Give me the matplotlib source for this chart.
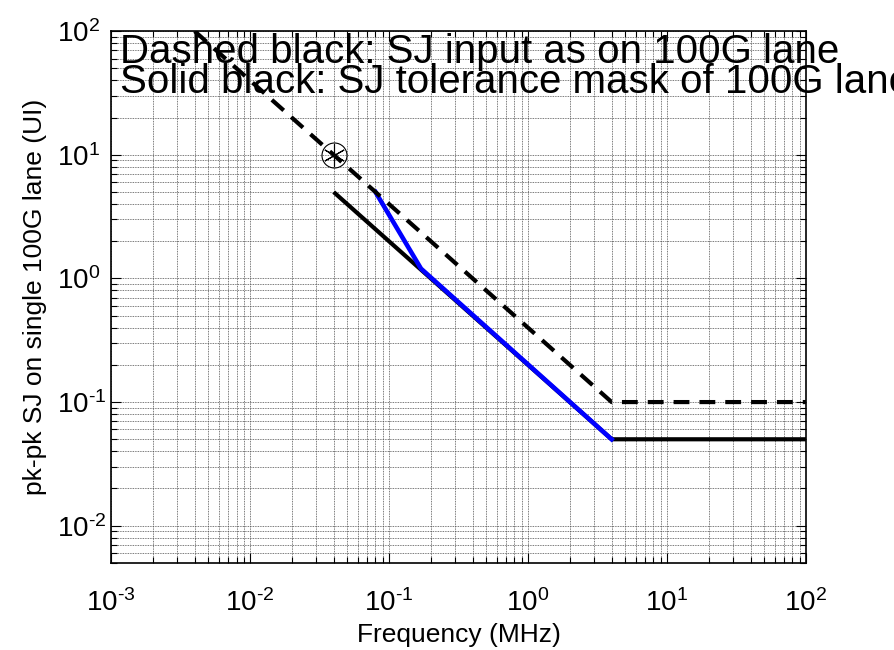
import numpy as np
import matplotlib
matplotlib.use('Agg')
import matplotlib.pyplot as plt
from matplotlib.ticker import LogLocator, NullFormatter, FuncFormatter

plt.rcParams['font.family'] = ['Liberation Sans', 'DejaVu Sans']
plt.rcParams['mathtext.fontset'] = 'custom'
plt.rcParams['mathtext.rm'] = 'Liberation Sans'
plt.rcParams['mathtext.it'] = 'Liberation Sans'
plt.rcParams['axes.unicode_minus'] = False

# SJ input on the 100G lane (dashed)
input_f = [0.004, 4, 100]
input_sj = [100, 0.1, 0.1]
# SJ tolerance mask (solid black)
mask_f = [0.04, 4, 100]
mask_sj = [5, 0.05, 0.05]
# blue trace
blue_f = [0.08, 0.17, 4]
blue_sj = [5, 1.2, 0.05]
# marked point
pt_f = [0.04]
pt_sj = [10]

fig = plt.figure(figsize=(8.95, 6.5), dpi=100)
ax = fig.add_axes([0.124, 0.134, 0.7765, 0.818])

ax.loglog(mask_f, mask_sj, color='k', lw=3.0, solid_capstyle='butt')
ax.loglog(blue_f, blue_sj, color='b', lw=3.3, solid_joinstyle='round')
ax.loglog(input_f, input_sj, color='k', lw=3.0, dashes=(3.8, 2.4))
ax.loglog(pt_f, pt_sj, 'ko', mfc='none', ms=18, mew=0.8)
ax.loglog(pt_f, pt_sj, color='k', marker=(6, 2, 0), ls='none', ms=16, mew=0.8)

ax.set_xlim(1e-3, 1e2)
ax.set_ylim(5e-3, 1e2)

def dec_fmt(v, pos):
    e = int(round(np.log10(v)))
    return r'$\mathregular{10^{\text{%d}}}$' % e

ax.xaxis.set_major_locator(LogLocator(base=10, numticks=20))
ax.yaxis.set_major_locator(LogLocator(base=10, numticks=20))
ax.xaxis.set_minor_locator(LogLocator(base=10, subs=np.arange(2, 10), numticks=20))
ax.yaxis.set_minor_locator(LogLocator(base=10, subs=np.arange(2, 10), numticks=20))
ax.xaxis.set_major_formatter(FuncFormatter(dec_fmt))
ax.yaxis.set_major_formatter(FuncFormatter(dec_fmt))
ax.xaxis.set_minor_formatter(NullFormatter())
ax.yaxis.set_minor_formatter(NullFormatter())

ax.grid(True, which='both', color='0.3', lw=0.6, ls=(0, (1, 1)))
ax.tick_params(which='both', direction='in', top=True, right=True, labelsize=20, width=0.8)
ax.tick_params(which='major', length=7)
ax.tick_params(axis='x', which='major', pad=19)
ax.tick_params(axis='y', which='major', pad=39)
ax.tick_params(which='minor', length=4)
for s in ax.spines.values():
    s.set_linewidth(1.2)

# MATLAB style: the "10" is aligned, the exponent hangs to the right
fig.canvas.draw()
for lab in ax.get_yticklabels():
    lab.set_horizontalalignment('left')

ax.set_xlabel('Frequency (MHz)', fontsize=19, labelpad=4)
ax.set_ylabel('pk-pk SJ on single 100G lane (UI)', fontsize=19, labelpad=7)

ax.text(0.013, 0.94, 'Dashed black: SJ input as on 100G lane', transform=ax.transAxes,
        fontsize=29, va='baseline', clip_on=False)
ax.text(0.013, 0.883, 'Solid black: SJ tolerance mask of 100G lane', transform=ax.transAxes,
        fontsize=29, va='baseline', clip_on=False)

fig.savefig('out.png', dpi=100)
